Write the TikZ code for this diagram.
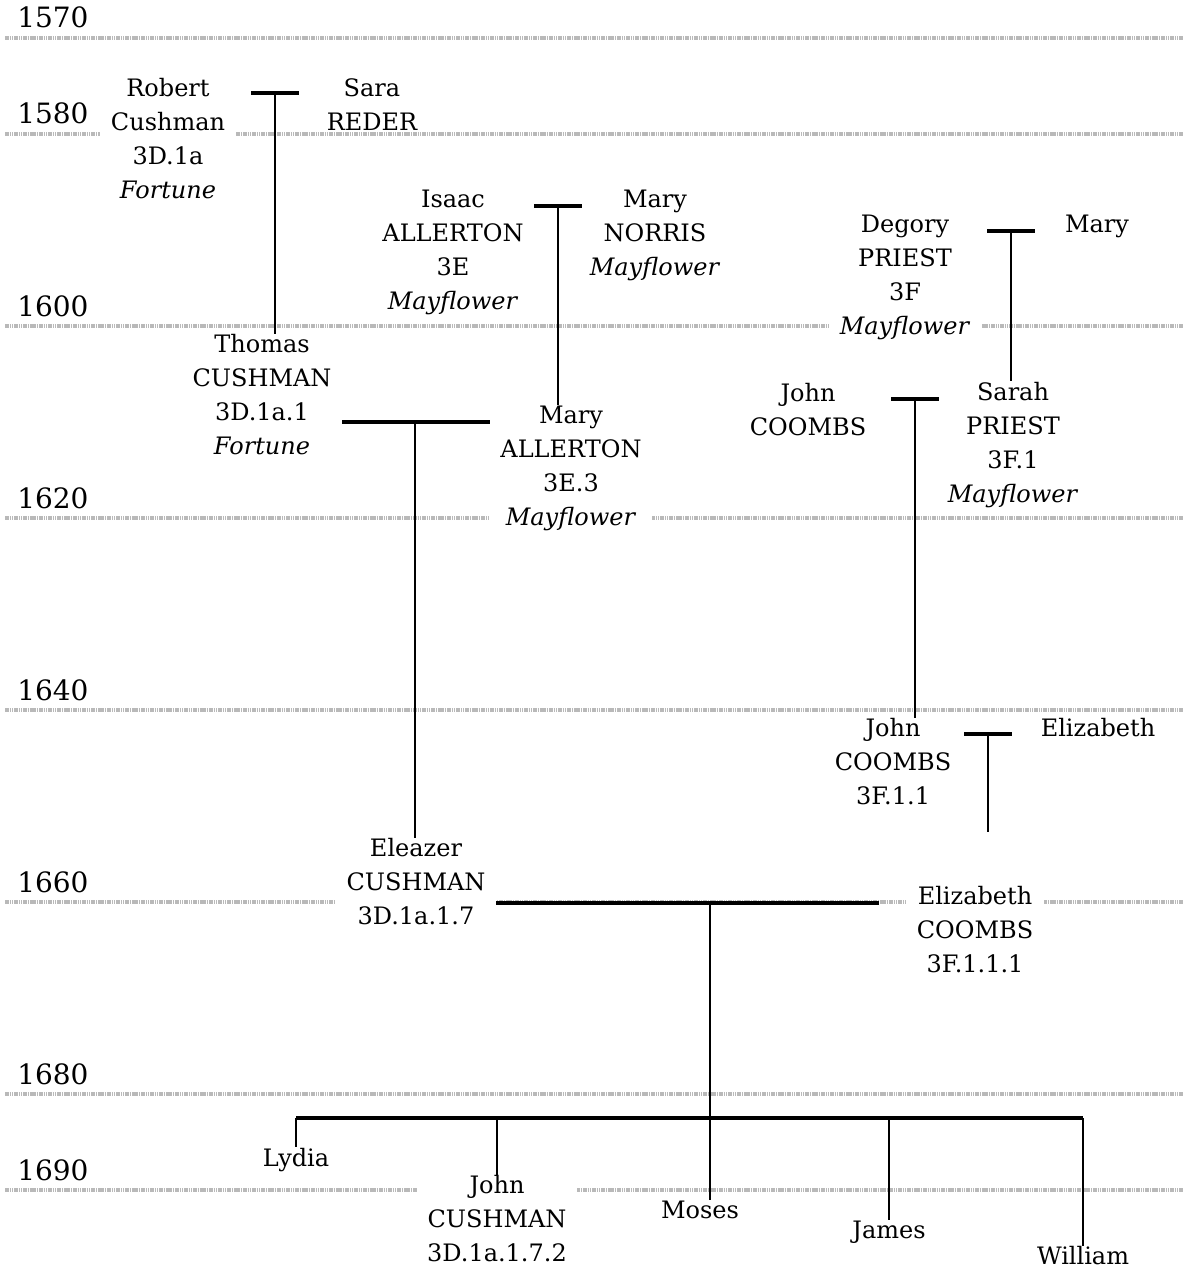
\documentclass[tikz,border=0pt]{standalone}
\usepackage{fontspec}
\setmainfont{DejaVu Serif}

\begin{document}
\begin{tikzpicture}[x=0.75pt, y=-0.75pt,
    person/.style={align=center, fill=white, inner xsep=8pt, inner ysep=0.5pt, font=\fontsize{18}{25.5}\selectfont},
    year/.style={anchor=base west, inner sep=0pt, font=\fontsize{21}{25}\selectfont},
    grid/.style={gray!55, line width=2.4pt, dash pattern=on 1.2pt off 0.5pt},
    bar/.style={line width=2.4pt},
    link/.style={line width=1.7pt}]
  \useasboundingbox (0,0) rectangle (1183,1273);
  \foreach \yr/\y in {1570/38,1580/134,1600/326,1620/518,1640/710,1660/902,1680/1094,1690/1190}{
    \draw[grid] (5,\y) -- (1183,\y);
    \node[year] (y\yr) at (17,\y-10) {\yr};
  }
  \node[person] (rc) at (168,139) {Robert\\Cushman\\3D.1a\\\textit{Fortune}};
  \node[person] (sr) at (372,105) {Sara\\REDER};
  \node[person] (ia) at (453,252) {Isaac\\ALLERTON\\3E\\\textit{Mayflower}};
  \node[person] (mn) at (655,235) {Mary\\NORRIS\\\textit{Mayflower}};
  \node[person] (dp) at (905,277) {Degory\\PRIEST\\3F\\\textit{Mayflower}};
  \node[person] (mp) at (1097,226) {Mary};
  \node[person] (tc) at (262,395) {Thomas\\CUSHMAN\\3D.1a.1\\\textit{Fortune}};
  \node[person] (ma) at (571,468) {Mary\\ALLERTON\\3E.3\\\textit{Mayflower}};
  \node[person] (jc) at (808,410) {John\\COOMBS};
  \node[person] (sp) at (1013,445) {Sarah\\PRIEST\\3F.1\\\textit{Mayflower}};
  \node[person] (jo) at (893,762) {John\\COOMBS\\3F.1.1};
  \node[person] (eb) at (1098,728) {Elizabeth};
  \node[person] (ec) at (416,882) {Eleazer\\CUSHMAN\\3D.1a.1.7};
  \node[person] (ez) at (975,930) {Elizabeth\\COOMBS\\3F.1.1.1};
  \node[person] (ly) at (296,1160) {Lydia};
  \node[person] (jn) at (497,1219) {John\\CUSHMAN\\3D.1a.1.7.2};
  \node[person] (mo) at (700,1210) {Moses};
  \node[person] (ja) at (889,1232) {James};
  \node[person] (wi) at (1083,1256) {William};

  \coordinate (j1) at (275,93);
  \coordinate (j2) at (558,206);
  \coordinate (j3) at (1011,231);
  \coordinate (j4) at (415,422);
  \coordinate (j5) at (915,399);
  \coordinate (j6) at (988,734);
  \coordinate (e6) at (988,832);
  \coordinate (j7) at (710,903);
  \coordinate (sb) at (710,1118);

  \draw[link] (j1) -- (j1 |- tc.north);
  \draw[link] (j2) -- (j2 |- ma.north);
  \draw[link] (j3) -- (j3 |- sp.north);
  \draw[link] (j4) -- (j4 |- ec.north);
  \draw[link] (j5) -- (j5 |- jo.north);
  \draw[link] (j6) -- (e6);
  \draw[link] (j7) -- (j7 |- mo.north);
  \draw[bar] ([xshift=-18pt]j1) -- ([xshift=18pt]j1);
  \draw[bar] ([xshift=-18pt]j2) -- ([xshift=18pt]j2);
  \draw[bar] ([xshift=-18pt]j3) -- ([xshift=18pt]j3);
  \draw[bar] ([xshift=-18pt]j5) -- ([xshift=18pt]j5);
  \draw[bar] ([xshift=-18pt]j6) -- ([xshift=18pt]j6);
  \draw[bar] (tc.east |- j4) -- (ma.west |- j4);
  \draw[bar] (ec.east |- j7) -- ([xshift=-20pt]ez.west |- j7);
  \draw[bar] (ly |- sb) -- (wi |- sb);
  \draw[link] (ly |- sb) -- (ly.north);
  \draw[link] (jn |- sb) -- (jn.north);
  \draw[link] (ja |- sb) -- (ja.north);
  \draw[link] (wi |- sb) -- (wi.north);
\end{tikzpicture}
\end{document}
